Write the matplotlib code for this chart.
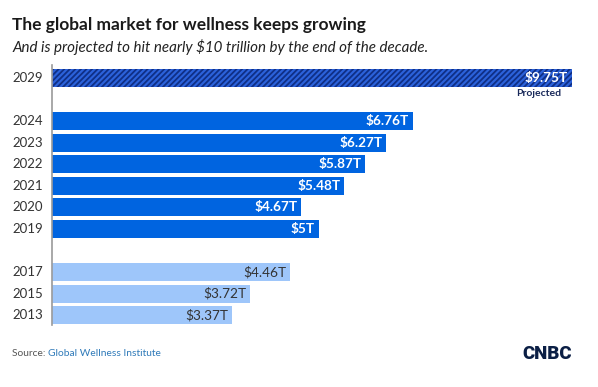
import matplotlib
matplotlib.use("Agg")
import matplotlib.pyplot as plt

plt.rcParams['font.family'] = ['Lato', 'DejaVu Sans']
plt.rcParams['hatch.linewidth'] = 1.3

years = ["2029", "2024", "2023", "2022", "2021", "2020", "2019", "2017", "2015", "2013"]
values = [9.75, 6.76, 6.27, 5.87, 5.48, 4.67, 5.0, 4.46, 3.72, 3.37]
labels = ["$9.75T", "$6.76T", "$6.27T", "$5.87T", "$5.48T", "$4.67T", "$5T", "$4.46T", "$3.72T", "$3.37T"]
slots = [0, 2, 3, 4, 5, 6, 7, 9, 10, 11]
kinds = ["projected"] + ["recent"] * 6 + ["old"] * 3

W, H = 598, 387
fig = plt.figure(figsize=(W / 100, H / 100), dpi=100)
fig.patch.set_facecolor("white")

ax_left, ax_right = 52, 572
ax_top, ax_bottom = 65, 325
ax = fig.add_axes([ax_left / W, 1 - ax_bottom / H, (ax_right - ax_left) / W, (ax_bottom - ax_top) / H])
ax.set_xlim(0, 9.75)
ax.set_ylim(11.45, -0.6)
ax.axis("off")
ax.plot([0, 0], [-0.6, 11.45], color="#9a9a9a", lw=1.2, clip_on=False, zorder=5)

colors = {"recent": "#0064e0", "old": "#9ec6fa"}
for yr, v, lab, s, k in zip(years, values, labels, slots, kinds):
    if k == "projected":
        ax.barh(s, v, height=0.83, color="#2c62db", edgecolor="#0f2f86", hatch="//////", lw=0)
    else:
        ax.barh(s, v, height=0.83, color=colors[k], lw=0)
    tc = "#333333" if k == "old" else "white"
    fw = "normal" if k == "old" else "bold"
    ax.text(v - 0.07, s, lab, ha="right", va="center", color=tc, fontsize=9.8, fontweight=fw, zorder=6)
    fig.text(12 / W, 1 - (ax_top + (s + 0.6) / 12.05 * (ax_bottom - ax_top)) / H, yr,
             ha="left", va="center", fontsize=9.5, color="#333333")

ax.text(9.75 - 0.2, 0.7, "Projected", ha="right", va="center", color="#1a2a5a", fontsize=7.5, fontweight="bold")

fig.text(12 / W, 1 - 25 / H, "The global market for wellness keeps growing", ha="left", va="center",
         fontsize=12.5, fontweight="bold", color="#1a1a1a")
fig.text(12 / W, 1 - 47 / H, "And is projected to hit nearly $10 trillion by the end of the decade.", ha="left",
         va="center", fontsize=10.9, style="italic", color="#222222")

t1 = fig.text(12 / W, 1 - 353 / H, "Source: ", ha="left", va="center", fontsize=7.4, color="#555555")
fig.canvas.draw()
bb = t1.get_window_extent()
fig.text(bb.x1 / W, 1 - 353 / H, "Global Wellness Institute", ha="left", va="center", fontsize=7.4, color="#2f7ab9")

fig.text(572 / W, 1 - 354 / H, "CNBC", ha="right", va="center", fontsize=13.5, fontweight="black",
         color="#0b1f45", family=["Roboto", "DejaVu Sans"])

fig.savefig("out.png", dpi=100, facecolor="white")
